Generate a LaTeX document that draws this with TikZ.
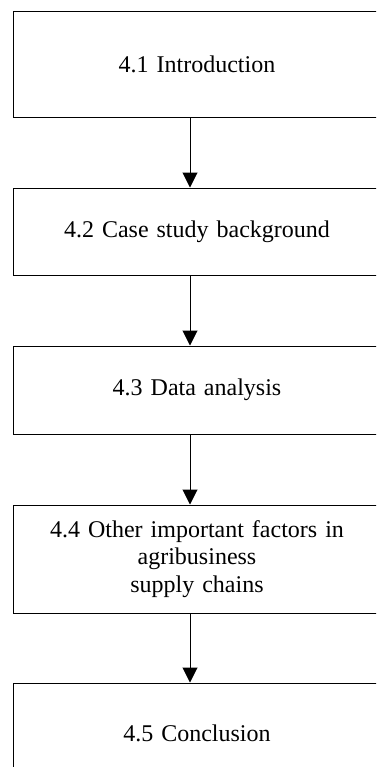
\documentclass[tikz,border=0pt]{standalone}
\usepackage{fontspec}
\setmainfont{Liberation Serif}
\usepackage{tikz}
\usetikzlibrary{arrows.meta}
\usetikzlibrary{shapes}

\begin{document}
\begin{tikzpicture}[line width=0.5pt, font=\fontsize{12}{13.8}\selectfont]
\useasboundingbox (0,0) rectangle (188pt,-383.5pt);
\clip (0,0) rectangle (188pt,-383.5pt);
\draw (98.5pt,-32pt) node[rectangle, draw = black, name = b1, minimum width = 184pt, minimum height = 53pt, text width = 170pt, text centered]{4.1 Introduction};
\draw (b1) + (0,-83.75pt) node[rectangle, draw = black, name = b2, minimum width = 184pt, minimum height = 43.5pt, text width = 170pt, text centered]{4.2 Case study background};
\draw[-{Triangle[length=7.5pt,width=7.5pt]}] ([xshift=-3.5pt]b1.south) -- ([xshift=-3.5pt]b2.north);
\draw (b2) + (0,-79.25pt) node[rectangle, draw = black, name = b3, minimum width = 184pt, minimum height = 44pt, text width = 170pt, text centered]{4.3 Data analysis};
\draw[-{Triangle[length=7.5pt,width=7.5pt]}] ([xshift=-3.5pt]b2.south) -- ([xshift=-3.5pt]b3.north);
\draw (b3) + (0,-84.5pt) node[rectangle, draw = black, name = b4, minimum width = 184pt, minimum height = 54pt, text width = 170pt, text centered]{4.4 Other important factors in\\ agribusiness\\ supply chains};
\draw[-{Triangle[length=7.5pt,width=7.5pt]}] ([xshift=-3.5pt]b3.south) -- ([xshift=-3.5pt]b4.north);
\draw (b4) + (0,-87pt) node[rectangle, draw = black, name = b5, minimum width = 184pt, minimum height = 50pt, text width = 170pt, text centered]{4.5 Conclusion};
\draw[-{Triangle[length=7.5pt,width=7.5pt]}] ([xshift=-3.5pt]b4.south) -- ([xshift=-3.5pt]b5.north);
\end{tikzpicture}
\end{document}
